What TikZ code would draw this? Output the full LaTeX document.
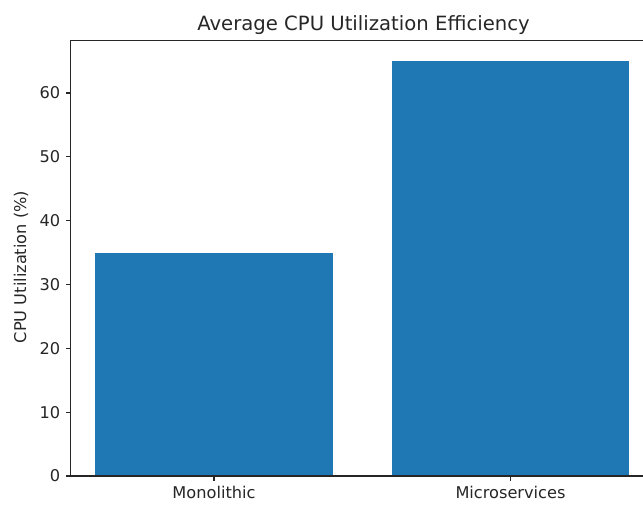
\documentclass[tikz,border=0pt]{standalone}
\usepackage{fontspec}
\setmainfont{DejaVu Sans}
\usetikzlibrary{positioning}
\definecolor{barblue}{HTML}{1F77B4}
\tikzstyle{bar} = [fill=barblue, draw=none]
\tikzstyle{spine} = [line width=0.8pt, black!85]
\tikzstyle{tick} = [line width=0.8pt, black!85]
\tikzstyle{ticklabel} = [font=\fontsize{11.7}{14}\selectfont, inner sep=0pt, text=black!85]

\begin{document}
\begin{tikzpicture}[x=0.0254cm, y=0.0254cm]
    \useasboundingbox (0,0) rectangle (643,505);
    % bars, value v sits at y = 29 + 6.383 v
    \fill[bar] (95,29) rectangle (333,252.4);
    \fill[bar] (392,29) rectangle (629,443.9);
    % axes frame (right side runs off the page)
    \coordinate (origin) at (70.5,29);
    \coordinate (topleft) at (70.5,464.5);
    \draw[spine] (643,29) -- (origin) -- (topleft) -- (643,464.5);
    % y ticks
    \foreach \v in {0,10,...,60} {
        \draw[tick] (70.5,29+6.383*\v) -- ++(-4.9,0) node (ytick\v) [left=3.5pt, ticklabel] {\v};
    }
    % x ticks
    \foreach \x/\name in {214/Monolithic, 510.5/Microservices} {
        \draw[tick] (\x,29) -- ++(0,-4.9) node (xtick\name) [below=3.5pt, ticklabel] {\name};
    }
    \node (ylabel) at (21,238) [rotate=90, ticklabel] {CPU Utilization (\%)};
    \node (title) at (363.5,474) [anchor=base, inner sep=0pt, font=\fontsize{14.2}{17}\selectfont, text=black!85] {Average CPU Utilization Efficiency};
\end{tikzpicture}
\end{document}
